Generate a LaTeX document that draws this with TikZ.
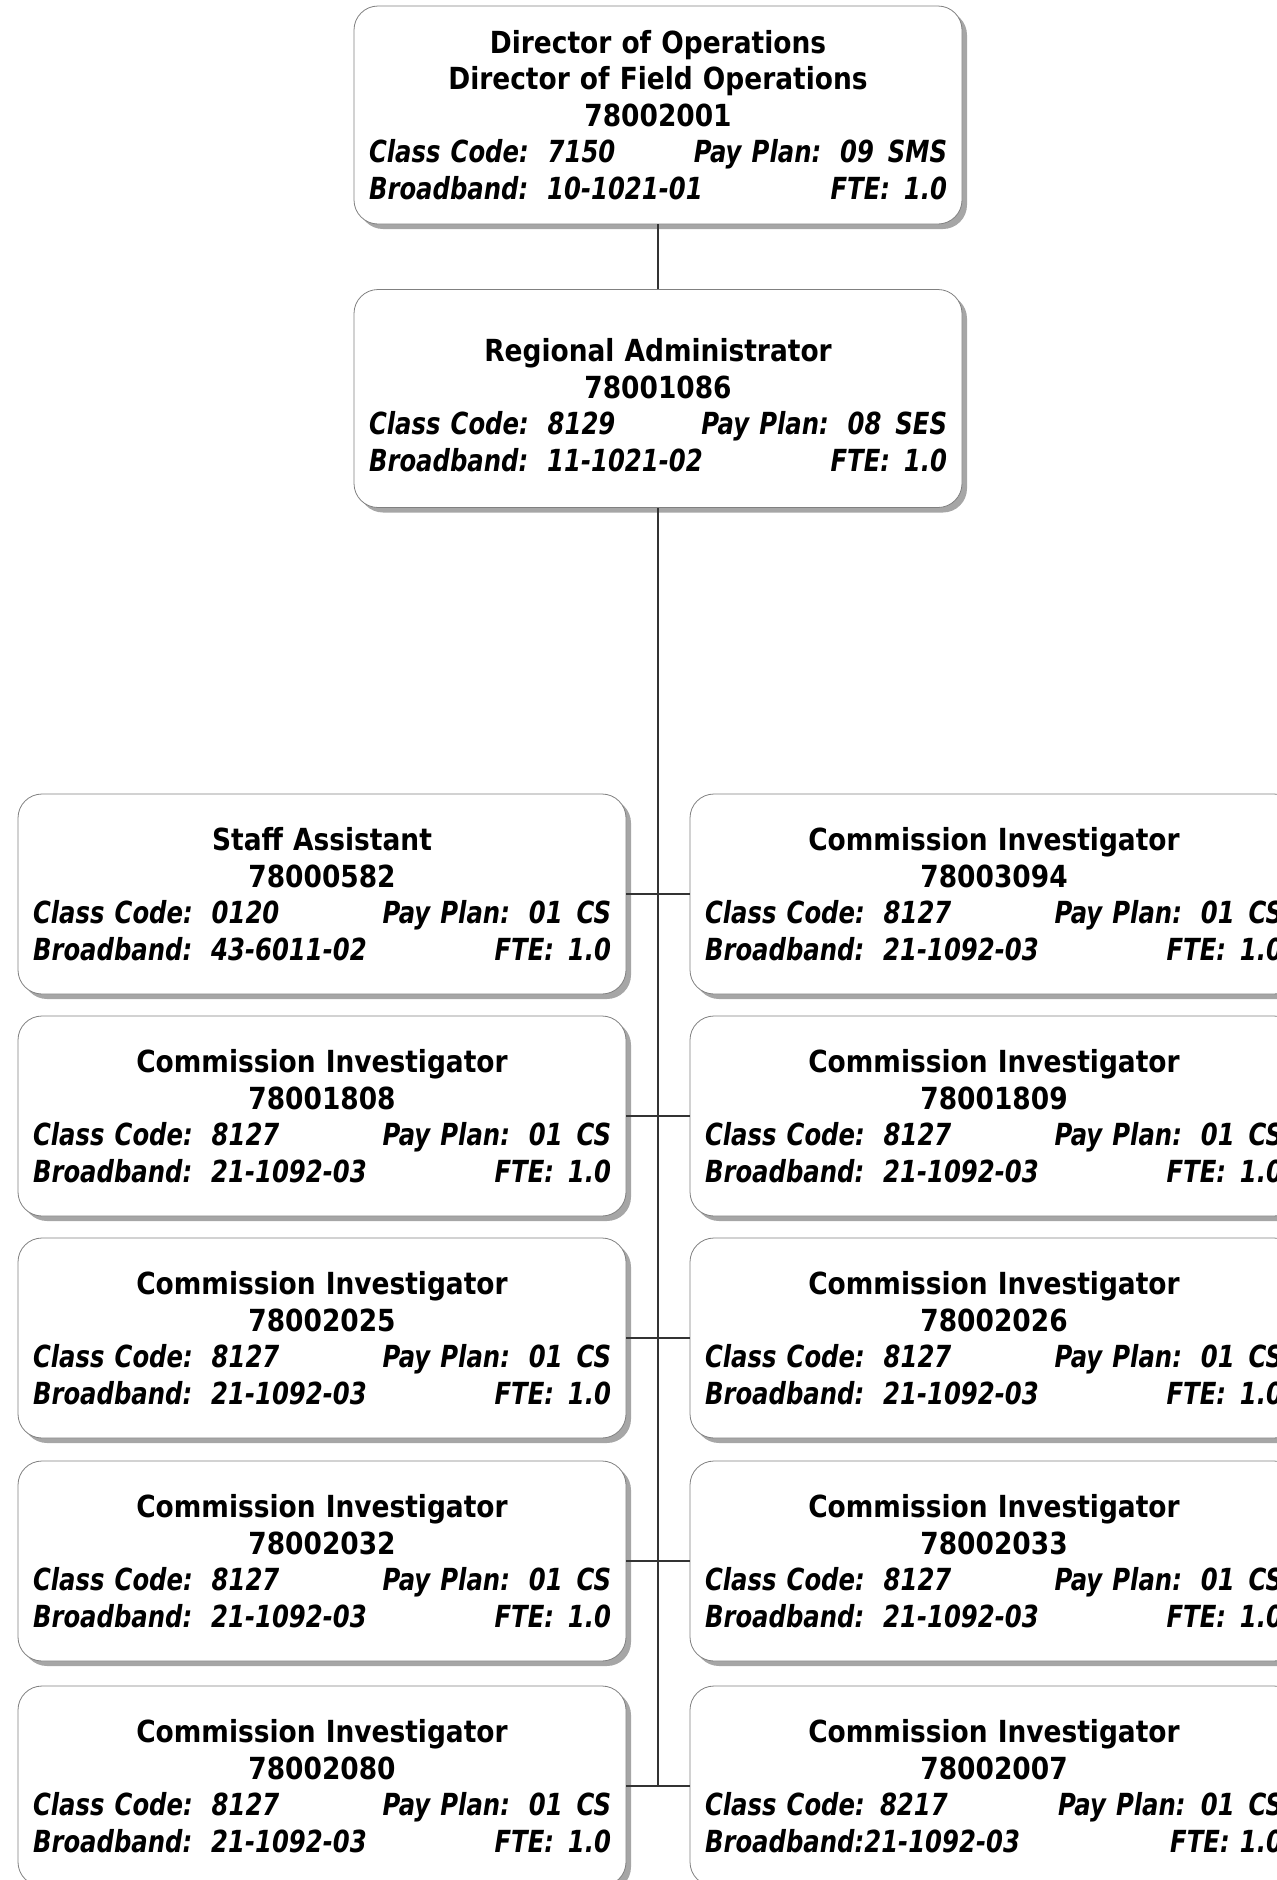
\documentclass[tikz,border=0pt]{standalone}
\usepackage{fontspec}
\setmainfont[FakeStretch=0.87]{DejaVu Sans}
\newfontfamily\infofont[FakeStretch=0.80]{DejaVu Sans}
\usetikzlibrary{shadows}

\tikzset{
  posn/.style={draw=black!50, fill=white, rounded corners=12pt,
    minimum width=304pt, text width=289pt, inner xsep=7.5pt, align=center,
    drop shadow={shadow xshift=2.5pt, shadow yshift=-2.5pt, fill=black!35, opacity=1},
    font=\fontsize{15.2}{18.3}\selectfont\bfseries},
  headpos/.style={posn, minimum height=109pt},
  staffpos/.style={posn, minimum height=100pt},
  link/.style={draw=black!80, line width=0.6pt}
}
\newcommand{\gap}{\hspace{0.12em}}
\newcommand{\infolines}[4]{{\infofont\itshape Class Code: \gap#1\hfill Pay Plan: \gap#2}\\
  {\infofont\itshape Broadband: \gap#3\hfill FTE: \gap#4}}

\begin{document}
\begin{tikzpicture}[x=0.5pt,y=-0.5pt]
  \useasboundingbox (0,0) rectangle (1276,1880);

  % upper chain
  \node[headpos] (dirops) at (658,115) {Director of Operations\\Director of Field Operations\\78002001\\
    \infolines{7150}{09 \gap SMS}{10-1021-01}{1.0}};
  \node[headpos] (regadmin) at (658,398.5) {\mbox{}\\Regional Administrator\\78001086\\
    \infolines{8129}{08 \gap SES}{11-1021-02}{1.0}};

  % staff, two columns
  \node[staffpos] (left1) at (322,894) {Staff Assistant\\78000582\\
    \infolines{0120}{01 \gap CS}{43-6011-02}{1.0}};
  \foreach \col/\xpos/\row/\ypos/\num in {left/322/2/1116/78001808, left/322/3/1338/78002025,
      left/322/4/1561/78002032, left/322/5/1786/78002080, right/994/1/894/78003094,
      right/994/2/1116/78001809, right/994/3/1338/78002026, right/994/4/1561/78002033} {
    \node[staffpos] (\col\row) at (\xpos,\ypos) {Commission Investigator\\\num\\
      \infolines{8127}{01 \gap CS}{21-1092-03}{1.0}};
  }
  \node[staffpos] (right5) at (994,1786) {Commission Investigator\\78002007\\
    {\infofont\itshape Class Code: 8217\hfill Pay Plan: 01 \gap CS}\\
    {\infofont\itshape Broadband:21-1092-03\hfill FTE: 1.0}};

  % connectors
  \coordinate (spineend) at (658,1786);
  \draw[link] (dirops) -- (regadmin);
  \draw[link] (regadmin) -- (spineend);
  \foreach \row in {1,...,5}
    \draw[link] (left\row.east) -- (right\row.west);
\end{tikzpicture}
\end{document}
